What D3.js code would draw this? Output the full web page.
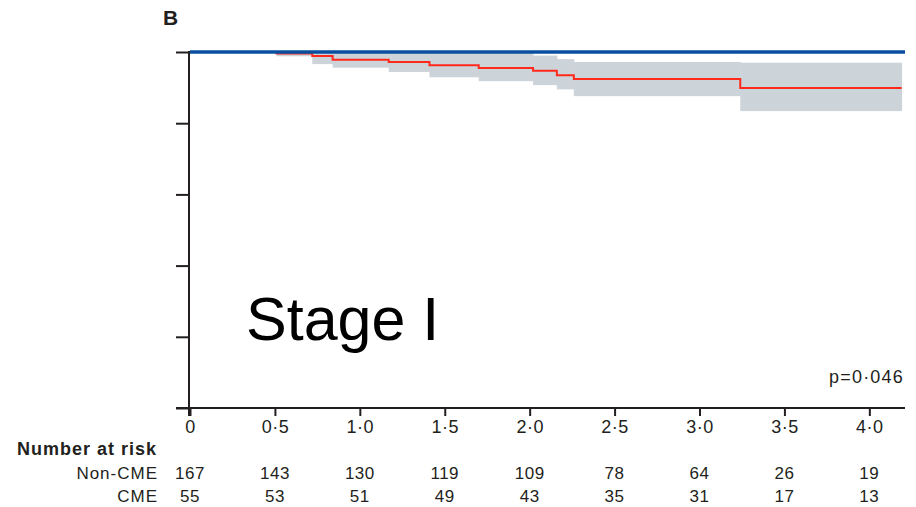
<!DOCTYPE html>
<html>
<head>
<meta charset="utf-8">
<script src="https://cdn.jsdelivr.net/npm/d3@7"></script>
<style>
  html, body { margin: 0; padding: 0; background: #fff; }
  svg { display: block; }
  text { font-family: "Liberation Sans", Arial, sans-serif; fill: #231f20; }
</style>
</head>
<body>
<svg id="chart" width="916" height="507"></svg>
<script>
// Kaplan-Meier survival, stage I: non-CME (no events) vs CME
const xTicks = [0, 0.5, 1.0, 1.5, 2.0, 2.5, 3.0, 3.5, 4.0];
const xTickLabels = ["0", "0·5", "1·0", "1·5", "2·0", "2·5", "3·0", "3·5", "4·0"];
const yTicks = [0, 0.2, 0.4, 0.6, 0.8, 1.0];

// Non-CME group: flat at 1.0 over whole follow-up
const nonCmeTimes = [0, 4.21];
const nonCmeSurv = [1.0, 1.0];

// CME group step function (time in years, survival)
const cmeTimes = [0, 0.51, 0.72, 0.84, 1.17, 1.41, 1.70, 2.02, 2.16, 2.26, 3.24, 4.19];
const cmeSurv  = [1.0, 0.996, 0.989, 0.978, 0.972, 0.963, 0.955, 0.947, 0.935, 0.924, 0.899, 0.899];

// 95% confidence band for CME group, one value per step interval
const ciStart = [0.51, 0.72, 0.84, 1.17, 1.41, 1.70, 2.02, 2.16, 2.26, 3.24];
const ciEnd   = [0.72, 0.84, 1.17, 1.41, 1.70, 2.02, 2.16, 2.26, 3.24, 4.19];
const ciLower = [0.988, 0.966, 0.956, 0.944, 0.929, 0.918, 0.907, 0.895, 0.876, 0.834];
const ciUpper = [1.0, 1.0, 1.0, 1.0, 1.0, 1.0, 0.990, 0.980, 0.972, 0.970];

// Number at risk
const riskGroups = ["Non-CME", "CME"];
const riskNonCme = [167, 143, 130, 119, 109, 78, 64, 26, 19];
const riskCme    = [55, 53, 51, 49, 43, 35, 31, 17, 13];

const panelLabel = "B";
const pValueText = "p=0·046";
const stageText = "Stage I";

const svg = d3.select("#chart");

const x = d3.scaleLinear().domain([0, 4.21]).range([190, 905]);
const y = d3.scaleLinear().domain([0, 1]).range([408, 52]);

// confidence band
const band = ciStart.map((s, i) => ({ s, e: ciEnd[i], lo: ciLower[i], hi: ciUpper[i] }));
svg.append("g").selectAll("rect").data(band).join("rect")
  .attr("x", d => x(d.s))
  .attr("width", d => x(d.e) - x(d.s) + 0.5)
  .attr("y", d => y(d.hi))
  .attr("height", d => y(d.lo) - y(d.hi))
  .attr("fill", "#ccd3d9");

const stepLine = d3.line().x(d => x(d[0])).y(d => y(d[1])).curve(d3.curveStepAfter);

// CME curve
svg.append("path")
  .datum(cmeTimes.map((t, i) => [t, cmeSurv[i]]))
  .attr("d", stepLine)
  .attr("fill", "none")
  .attr("stroke", "#ff2a1c")
  .attr("stroke-width", 2);

// Non-CME curve
svg.append("path")
  .datum(nonCmeTimes.map((t, i) => [t, nonCmeSurv[i]]))
  .attr("d", stepLine)
  .attr("fill", "none")
  .attr("stroke", "#0a4f9f")
  .attr("stroke-width", 3.5);

// y axis (no labels)
const yAxis = svg.append("g")
  .attr("transform", `translate(${x(0) - 1},0)`)
  .call(d3.axisLeft(y).tickValues(yTicks).tickSize(13).tickFormat(""));
yAxis.select(".domain").attr("d", `M0,${y(1) - 1}V${y(0) + 8}`).attr("stroke", "#231f20").attr("stroke-width", 2);
yAxis.selectAll(".tick line").attr("stroke", "#231f20").attr("stroke-width", 2);

// x axis
const xAxis = svg.append("g")
  .attr("transform", `translate(0,${y(0)})`)
  .call(d3.axisBottom(x).tickValues(xTicks).tickSize(8).tickFormat((d, i) => xTickLabels[i]));
xAxis.select(".domain").attr("d", `M${x(0) - 14},0H${x(4.21)}`).attr("stroke", "#231f20").attr("stroke-width", 2);
xAxis.selectAll(".tick line").attr("stroke", "#231f20").attr("stroke-width", 2);
xAxis.selectAll(".tick text")
  .attr("y", 12)
  .attr("dy", "0.71em")
  .style("font-family", "'Liberation Sans', Arial, sans-serif")
  .style("font-size", "18px")
  .style("letter-spacing", "0.5px")
  .attr("fill", "#231f20");

// panel label
svg.append("text").attr("x", 163).attr("y", 25)
  .style("font-size", "21px").style("font-weight", "bold")
  .text(panelLabel);

// p value
svg.append("text").attr("x", 904).attr("y", 383)
  .attr("text-anchor", "end")
  .style("font-size", "18px").style("letter-spacing", "1.2px")
  .text(pValueText);

// stage annotation
svg.append("text").attr("x", 246).attr("y", 340)
  .style("font-size", "61px").style("fill", "#000")
  .text(stageText);

// number at risk table
svg.append("text").attr("x", 17).attr("y", 455)
  .style("font-size", "18px").style("font-weight", "bold").style("letter-spacing", "1px")
  .text("Number at risk");

const rows = [riskNonCme, riskCme];
const rowY = [479, 502];
rows.forEach((vals, r) => {
  svg.append("text").attr("x", 158).attr("y", rowY[r])
    .attr("text-anchor", "end")
    .style("font-size", "17px").style("letter-spacing", "1px")
    .text(riskGroups[r]);
  svg.append("g").selectAll("text").data(vals).join("text")
    .attr("x", (d, i) => x(xTicks[i]))
    .attr("y", rowY[r])
    .attr("text-anchor", "middle")
    .style("font-size", "17px").style("letter-spacing", "0.5px")
    .text(d => d);
});
</script>
</body>
</html>
